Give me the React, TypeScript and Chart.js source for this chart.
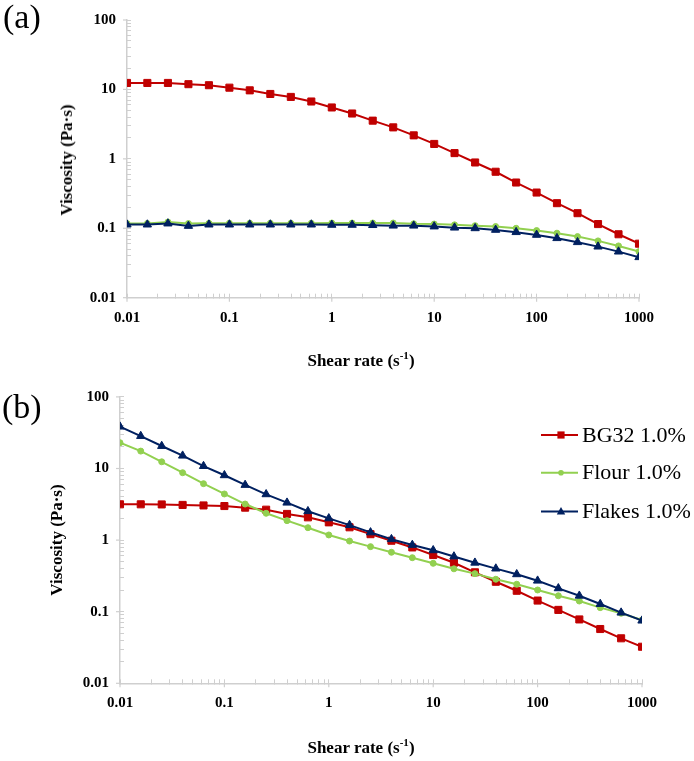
import React, { useEffect, useRef } from 'react';
import { Chart, registerables } from 'chart.js';

Chart.register(...registerables);

// ---------- data ----------
const shearRate = [
  0.01, 0.0158, 0.0251, 0.0398, 0.0631, 0.1, 0.158, 0.251, 0.398, 0.631,
  1, 1.58, 2.51, 3.98, 6.31, 10, 15.8, 25.1, 39.8, 63.1,
  100, 158, 251, 398, 631, 1000,
];

const seriesNames = ['BG32 1.0%', 'Flour 1.0%', 'Flakes 1.0%'];

// panel (a)
const aBG32 = [
  12.4, 12.4, 12.4, 11.9, 11.5, 10.6, 9.7, 8.6, 7.8, 6.7,
  5.5, 4.5, 3.55, 2.84, 2.18, 1.64, 1.21, 0.887, 0.652, 0.456,
  0.327, 0.23, 0.165, 0.115, 0.082, 0.06,
];
const aFlour = [
  0.117, 0.117, 0.123, 0.117, 0.118, 0.118, 0.118, 0.118, 0.118, 0.118,
  0.119, 0.119, 0.119, 0.119, 0.116, 0.115, 0.112, 0.109, 0.106, 0.1,
  0.0927, 0.085, 0.0759, 0.0658, 0.0557, 0.0461,
];
const aFlakes = [
  0.113, 0.113, 0.117, 0.108, 0.113, 0.113, 0.113, 0.113, 0.113, 0.113,
  0.112, 0.112, 0.111, 0.109, 0.109, 0.106, 0.102, 0.1, 0.0948, 0.0879,
  0.0803, 0.072, 0.063, 0.0544, 0.0461, 0.0383,
];

// panel (b)
const bBG32 = [
  3.16, 3.16, 3.15, 3.1, 3.05, 2.99, 2.84, 2.66, 2.32, 2.08,
  1.77, 1.51, 1.21, 0.98, 0.79, 0.619, 0.483, 0.355, 0.262, 0.196,
  0.143, 0.106, 0.078, 0.0573, 0.0425, 0.0324,
];
const bFlour = [
  22.9, 17.5, 12.4, 8.73, 6.14, 4.41, 3.19, 2.37, 1.87, 1.49,
  1.18, 0.97, 0.81, 0.676, 0.568, 0.474, 0.397, 0.34, 0.284, 0.242,
  0.201, 0.167, 0.141, 0.114, 0.095, 0.0766,
];
const bFlakes = [
  38.4, 28.4, 20.6, 15.1, 10.8, 8.04, 5.89, 4.36, 3.33, 2.53,
  2.01, 1.62, 1.28, 1.03, 0.855, 0.72, 0.59, 0.483, 0.4, 0.333,
  0.271, 0.212, 0.167, 0.128, 0.097, 0.075,
];

const xTickLabels = ['0.01', '0.1', '1', '10', '100', '1000'];
const yTickLabels = ['0.01', '0.1', '1', '10', '100'];

// ---------- styles ----------
const SERIF = '"Liberation Serif", "Times New Roman", serif';
const seriesStyles = [
  { color: '#C00000', pointStyle: 'rect', radius: 5, legendSize: 3.6 },
  { color: '#92D050', pointStyle: 'circle', radius: 3, legendSize: 2.8 },
  { color: '#002060', pointStyle: 'triangle', radius: 4.8, legendSize: 4.2 },
];
const AXIS_COLOR = '#cfcfcf';

function decadeLabel(labels: string[], v: number): string {
  const e = Math.log10(v);
  const r = Math.round(e);
  if (Math.abs(e - r) > 1e-6) return '';
  return labels[r + 2] ?? '';
}

function makeDatasets(series: number[][]) {
  return series.map((vals, i) => {
    const s = seriesStyles[i];
    return {
      label: seriesNames[i],
      data: shearRate.map((x, j) => ({ x, y: vals[j] })),
      borderColor: s.color,
      backgroundColor: s.color,
      pointBackgroundColor: s.color,
      pointBorderColor: s.color,
      pointStyle: s.pointStyle as any,
      pointRadius: s.radius,
      pointBorderWidth: 1,
      borderWidth: 2,
      tension: 0,
      order: 3 - i,
    };
  });
}

function filterTicks(scale: any) {
  scale.ticks = scale.ticks.filter((t: any) => {
    const e = Math.floor(Math.log10(t.value) + 1e-9);
    const sig = t.value / Math.pow(10, e);
    return Math.abs(sig - Math.round(sig)) < 1e-6;
  });
}

interface Geometry {
  height: number;
  left: number; // chart area left
  right: number; // chart area right
  top: number; // chart area top (canvas coords)
  bottom: number; // chart area bottom (canvas coords)
}

function makeConfig(series: number[][], g: Geometry, withLegend: boolean) {
  const tickFont = { family: SERIF, size: 15, weight: 'bold' as const };

  // short outward marks at the decades (major ticks cross the axis line)
  const majorTicksPlugin = {
    id: 'majorTicks',
    afterDraw(chart: any) {
      const ctx = chart.ctx as CanvasRenderingContext2D;
      const xs = chart.scales.x;
      const ys = chart.scales.y;
      const area = chart.chartArea;
      ctx.save();
      ctx.strokeStyle = AXIS_COLOR;
      ctx.lineWidth = 1.2;
      xs.ticks.forEach((t: any) => {
        if (decadeLabel(xTickLabels, t.value) === '') return;
        const px = xs.getPixelForValue(t.value);
        ctx.beginPath();
        ctx.moveTo(px, area.bottom);
        ctx.lineTo(px, area.bottom + 4);
        ctx.stroke();
      });
      ys.ticks.forEach((t: any) => {
        if (decadeLabel(yTickLabels, t.value) === '') return;
        const py = ys.getPixelForValue(t.value);
        ctx.beginPath();
        ctx.moveTo(area.left, py);
        ctx.lineTo(area.left - 4, py);
        ctx.stroke();
      });
      ctx.restore();
    },
  };

  const legendPlugin = {
    id: 'customLegend',
    afterDraw(chart: any) {
      if (!withLegend) return;
      const ctx = chart.ctx as CanvasRenderingContext2D;
      const rows = [75, 112.7, 151.5];
      ctx.save();
      rows.forEach((y, i) => {
        const s = seriesStyles[i];
        ctx.strokeStyle = s.color;
        ctx.fillStyle = s.color;
        ctx.lineWidth = 2;
        ctx.beginPath();
        ctx.moveTo(541, y);
        ctx.lineTo(578, y);
        ctx.stroke();
        const cx = 561;
        const r = s.legendSize;
        ctx.beginPath();
        if (s.pointStyle === 'rect') {
          ctx.rect(cx - r, y - r, 2 * r, 2 * r);
        } else if (s.pointStyle === 'circle') {
          ctx.arc(cx, y, r, 0, Math.PI * 2);
        } else {
          ctx.moveTo(cx, y - r * 1.1);
          ctx.lineTo(cx + r, y + r * 0.7);
          ctx.lineTo(cx - r, y + r * 0.7);
          ctx.closePath();
        }
        ctx.fill();
        ctx.fillStyle = '#000';
        ctx.font = `22px ${SERIF}`;
        ctx.textBaseline = 'middle';
        ctx.textAlign = 'left';
        ctx.fillText(seriesNames[i], 582, y + 1);
      });
      ctx.restore();
    },
  };

  return {
    type: 'line' as const,
    data: { datasets: makeDatasets(series) },
    options: {
      responsive: false,
      animation: false as const,
      events: [],
      layout: {
        padding: { left: 0, top: g.top, right: 694 - g.right, bottom: 0 },
      },
      plugins: {
        legend: { display: false },
        tooltip: { enabled: false },
        title: { display: false },
      },
      scales: {
        x: {
          type: 'logarithmic' as const,
          min: 0.01,
          max: 1000,
          afterBuildTicks: filterTicks,
          afterFit: (scale: any) => {
            scale.height = g.height - g.bottom;
            scale.paddingLeft = 0;
            scale.paddingRight = 0;
            scale.paddingTop = 0;
            scale.paddingBottom = 0;
          },
          border: { display: true, color: AXIS_COLOR, width: 1.5 },
          grid: {
            display: true,
            drawOnChartArea: false,
            drawTicks: true,
            tickLength: -4,
            tickColor: AXIS_COLOR,
          },
          ticks: {
            autoSkip: false,
            maxRotation: 0,
            minRotation: 0,
            padding: 15,
            color: '#000',
            font: tickFont,
            callback: (v: any) => decadeLabel(xTickLabels, Number(v)),
          },
        },
        y: {
          type: 'logarithmic' as const,
          min: 0.01,
          max: 100,
          afterBuildTicks: filterTicks,
          afterFit: (scale: any) => {
            scale.width = g.left;
            scale.paddingLeft = 0;
            scale.paddingRight = 0;
            scale.paddingTop = 0;
            scale.paddingBottom = 0;
          },
          border: { display: true, color: AXIS_COLOR, width: 1.5 },
          grid: {
            display: true,
            drawOnChartArea: false,
            drawTicks: true,
            tickLength: -4,
            tickColor: AXIS_COLOR,
          },
          ticks: {
            autoSkip: false,
            padding: 15,
            color: '#000',
            font: tickFont,
            callback: (v: any) => decadeLabel(yTickLabels, Number(v)),
          },
        },
      },
    },
    plugins: [majorTicksPlugin, legendPlugin],
  };
}

function Panel(props: { series: number[][]; g: Geometry; top: number; legend: boolean }) {
  const ref = useRef<HTMLCanvasElement>(null);
  useEffect(() => {
    if (!ref.current) return;
    const chart = new Chart(ref.current, makeConfig(props.series, props.g, props.legend) as any);
    return () => chart.destroy();
  }, []);
  return (
    <canvas
      ref={ref}
      width={694}
      height={props.g.height}
      style={{ position: 'absolute', left: 0, top: props.top, width: 694, height: props.g.height }}
    />
  );
}

const titleStyle: React.CSSProperties = {
  position: 'absolute',
  fontFamily: SERIF,
  fontWeight: 'bold',
  fontSize: 17,
  lineHeight: '20px',
  whiteSpace: 'nowrap',
  color: '#000',
};

function XTitle(props: { cx: number; cy: number }) {
  return (
    <div style={{ ...titleStyle, left: props.cx, top: props.cy, transform: 'translate(-50%, -50%)' }}>
      Shear rate (s<sup style={{ fontSize: '0.65em', lineHeight: 0 }}>-1</sup>)
    </div>
  );
}

function YTitle(props: { cx: number; cy: number }) {
  return (
    <div
      style={{
        ...titleStyle,
        left: props.cx,
        top: props.cy,
        transform: 'translate(-50%, -50%) rotate(-90deg)',
      }}
    >
      Viscosity (Pa·s)
    </div>
  );
}

const panelLabelStyle: React.CSSProperties = {
  position: 'absolute',
  fontFamily: SERIF,
  fontSize: 34,
  lineHeight: '34px',
  color: '#000',
};

export default function App() {
  const gA: Geometry = { height: 350, left: 127, right: 639, top: 20, bottom: 297.7 };
  const gB: Geometry = { height: 401, left: 120, right: 642, top: 36.9, bottom: 323.3 };
  return (
    <div style={{ position: 'absolute', left: 0, top: 0, width: 694, height: 761, background: '#fff', overflow: 'hidden' }}>
      <Panel series={[aBG32, aFlour, aFlakes]} g={gA} top={0} legend={false} />
      <Panel series={[bBG32, bFlour, bFlakes]} g={gB} top={360} legend={true} />
      <div style={{ ...panelLabelStyle, left: 3, top: 0 }}>(a)</div>
      <div style={{ ...panelLabelStyle, left: 2, top: 390 }}>(b)</div>
      <XTitle cx={361} cy={361} />
      <XTitle cx={361} cy={748} />
      <YTitle cx={67} cy={160} />
      <YTitle cx={57} cy={540} />
    </div>
  );
}
